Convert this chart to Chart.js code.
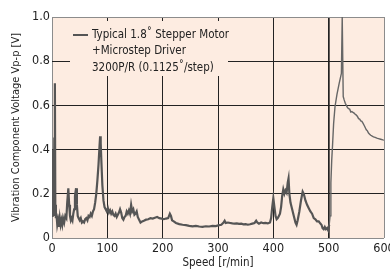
<!DOCTYPE html>
<html>
<head>
<meta charset="utf-8">
<script src="https://cdn.jsdelivr.net/npm/chart.js@4"></script>
<style>
  html, body { margin: 0; padding: 0; background: #ffffff; }
</style>
</head>
<body>
<canvas id="vibChart" width="390" height="271"></canvas>
<script>
const speeds = [
  0, 0.8, 1.6, 2.4, 3.2, 4.2, 5.2, 6, 7, 8, 9.5, 11, 12.5, 14, 15.5, 17, 18.5, 20, 22, 24,
  26, 27.5, 29.5, 31, 32.5, 34, 35.5, 37, 38.5, 40, 41.5, 43.5, 45, 46.5, 48, 50, 52, 54, 56, 58,
  60, 62, 64, 66, 68, 70, 72, 74, 76, 78, 80, 82, 84, 86, 87, 88, 89.5, 91, 93, 95,
  97, 99, 101, 103, 105, 107, 109, 111, 113, 115, 117, 119, 121, 123, 125, 127, 129, 131, 133, 135,
  137, 139, 141, 143, 145, 147, 149, 151, 153, 155, 157, 160, 163, 166, 170, 174, 178, 182, 186, 190,
  194, 198, 202, 206, 210, 213, 215, 217, 220, 224, 230, 236, 242, 248, 254, 260, 266, 272, 278, 284,
  290, 296, 302, 306, 310, 312, 314, 318, 322, 326, 330, 334, 338, 342, 346, 350, 354, 358, 362, 366,
  369, 371, 374, 378, 382, 386, 390, 394, 396, 398, 400, 402, 404, 406, 408, 410, 412, 414, 416, 418,
  420, 422, 424, 426, 427.5, 429, 431, 434, 437, 440, 442, 444, 447, 450, 453, 455, 458, 461, 464, 467,
  470, 473, 476, 479, 482, 485, 487, 489, 491, 493, 495, 497, 499, 501, 502.5, 504, 505.5, 507, 509, 511.5,
  515, 519, 523, 524.5, 525.8, 526.3, 528, 530, 532, 534, 536, 538, 540, 542, 544, 546, 548, 550, 552, 554,
  556, 558, 560, 562, 564, 566, 568, 570, 572, 574, 576, 578, 581, 584, 587, 590, 594, 598, 600
];
const voltages = [
  0.10, 0.40, 0.12, 0.30, 0.10, 0.45, 0.70, 0.15, 0.09, 0.11, 0.06, 0.08, 0.05, 0.09, 0.06, 0.08, 0.06, 0.09, 0.07, 0.10,
  0.09, 0.16, 0.225, 0.15, 0.10, 0.08, 0.09, 0.08, 0.11, 0.13, 0.19, 0.225, 0.15, 0.10, 0.09, 0.08, 0.09, 0.07, 0.075, 0.07,
  0.085, 0.09, 0.08, 0.10, 0.095, 0.11, 0.10, 0.12, 0.13, 0.16, 0.20, 0.26, 0.33, 0.42, 0.46, 0.43, 0.33, 0.24, 0.17, 0.14,
  0.13, 0.12, 0.135, 0.115, 0.125, 0.11, 0.12, 0.105, 0.10, 0.11, 0.095, 0.105, 0.115, 0.13, 0.115, 0.09, 0.083, 0.095, 0.10, 0.12,
  0.11, 0.125, 0.11, 0.15, 0.12, 0.13, 0.105, 0.11, 0.12, 0.095, 0.085, 0.07, 0.075, 0.078, 0.083, 0.085, 0.09, 0.088, 0.092, 0.095,
  0.09, 0.088, 0.085, 0.088, 0.09, 0.11, 0.10, 0.08, 0.075, 0.068, 0.063, 0.06, 0.058, 0.055, 0.053, 0.055, 0.052, 0.05, 0.053, 0.052,
  0.055, 0.054, 0.058, 0.06, 0.07, 0.078, 0.068, 0.07, 0.068, 0.066, 0.065, 0.066, 0.064, 0.065, 0.062, 0.063, 0.06, 0.062, 0.065, 0.068,
  0.078, 0.07, 0.065, 0.07, 0.067, 0.068, 0.066, 0.07, 0.09, 0.14, 0.18, 0.14, 0.10, 0.085, 0.09, 0.10, 0.11, 0.14, 0.19, 0.22,
  0.20, 0.215, 0.205, 0.25, 0.27, 0.20, 0.16, 0.13, 0.10, 0.07, 0.06, 0.08, 0.12, 0.17, 0.21, 0.20, 0.17, 0.15, 0.135, 0.12,
  0.11, 0.09, 0.085, 0.075, 0.075, 0.065, 0.06, 0.045, 0.04, 0.05, 0.04, 0.045, 0.035, 0.06, 0.10, 0.25, 0.35, 0.42, 0.52, 0.595,
  0.65, 0.70, 0.745, 1.0, 1.0, 0.64, 0.625, 0.61, 0.60, 0.59, 0.585, 0.583, 0.57, 0.572, 0.568, 0.565, 0.56, 0.556, 0.55, 0.54,
  0.538, 0.53, 0.528, 0.52, 0.51, 0.50, 0.49, 0.485, 0.475, 0.47, 0.465, 0.462, 0.458, 0.455, 0.452, 0.45, 0.447, 0.444, 0.443
];
const xTicks = [0, 100, 200, 300, 400, 500, 600];
const yTicks = [0, 0.2, 0.4, 0.6, 0.8, 1.0];
const legendLines = ["Typical 1.8\u02da Stepper Motor", "+Microstep Driver", "3200P/R (0.1125\u02da/step)"];

// no narrow font installed: ask for the condensed stretch of DejaVu Sans
const FONT = "'DejaVu Sans', sans-serif";
const STRETCH = "condensed";
const PEACH = "#fdece1";

const points = speeds.map((s, i) => ({ x: s, y: voltages[i] }));

const gridColor = (edge) => (c) => (c.tick && (c.tick.value === 0 || c.tick.value === edge)) ? "#8c8c8c" : "#222222";

const panelPlugin = {
  id: "panel",
  beforeDraw(chart) {
    const a = chart.chartArea, ctx = chart.ctx;
    ctx.save();
    ctx.fillStyle = PEACH;
    ctx.fillRect(a.left, a.top, a.right - a.left, a.bottom - a.top);
    ctx.restore();
  },
  beforeDatasetsDraw(chart) {
    const ctx = chart.ctx;
    ctx.save();
    ctx.fillStyle = PEACH;
    ctx.fillRect(70, 21, 158, 55);
    ctx.strokeStyle = "#555555";
    ctx.lineWidth = 2;
    ctx.beginPath();
    ctx.moveTo(73, 35);
    ctx.lineTo(88, 35);
    ctx.stroke();
    ctx.fillStyle = "#222222";
    ctx.font = STRETCH + " 11.5px " + FONT;
    ctx.textBaseline = "middle";
    ctx.fillText(legendLines[0], 92, 35);
    ctx.fillText(legendLines[1], 92, 51.5);
    ctx.fillText(legendLines[2], 92, 68);
    ctx.restore();
  }
};

new Chart(
  document.getElementById("vibChart"),
  {
    type: "line",
    data: {
      datasets: [{
        data: points,
        borderColor: "#555555",
        borderWidth: 2.2,
        pointRadius: 0,
        tension: 0,
        segment: {
          borderWidth: c => c.p0.parsed.x >= 501 ? 1.4 : 2.2,
          borderColor: c => c.p0.parsed.x >= 501 ? "#666666" : "#555555"
        }
      }]
    },
    options: {
      responsive: false,
      animation: false,
      layout: { padding: { top: 17, right: 6, left: 0, bottom: 0 } },
      plugins: { legend: { display: false }, tooltip: { enabled: false } },
      scales: {
        x: {
          type: "linear",
          min: 0,
          max: 600,
          afterBuildTicks: s => { s.ticks = xTicks.map(v => ({ value: v })); },
          afterFit: s => { s.paddingRight = 0; s.paddingLeft = 0; s.height = 33; },
          grid: {
            color: gridColor(600),
            lineWidth: c => c.tick && c.tick.value === 500 ? 1.7 : 1,
            drawTicks: false
          },
          border: { display: false },
          ticks: {
            color: "#222222",
            padding: 3,
            maxRotation: 0,
            font: { family: FONT, size: 12.5, weight: STRETCH }
          },
          title: {
            display: true,
            text: "Speed [r/min]",
            color: "#222222",
            padding: { top: 0, bottom: 1 },
            font: { family: FONT, size: 11.5, weight: STRETCH }
          }
        },
        y: {
          min: 0,
          max: 1,
          afterBuildTicks: s => { s.ticks = yTicks.map(v => ({ value: v })); },
          afterFit: s => { s.width = 52; },
          grid: {
            color: gridColor(1),
            drawTicks: false
          },
          border: { display: false },
          ticks: {
            color: "#222222",
            padding: 2,
            callback: v => v === 0 ? "0" : v.toFixed(1),
            font: { family: FONT, size: 12.5, weight: STRETCH }
          },
          title: {
            display: true,
            text: "Vibration Component Voltage Vp-p [V]",
            color: "#222222",
            padding: { top: 10, bottom: 0 },
            font: { family: FONT, size: 11, weight: STRETCH }
          }
        }
      }
    },
    plugins: [panelPlugin]
  }
);
</script>
</body>
</html>
